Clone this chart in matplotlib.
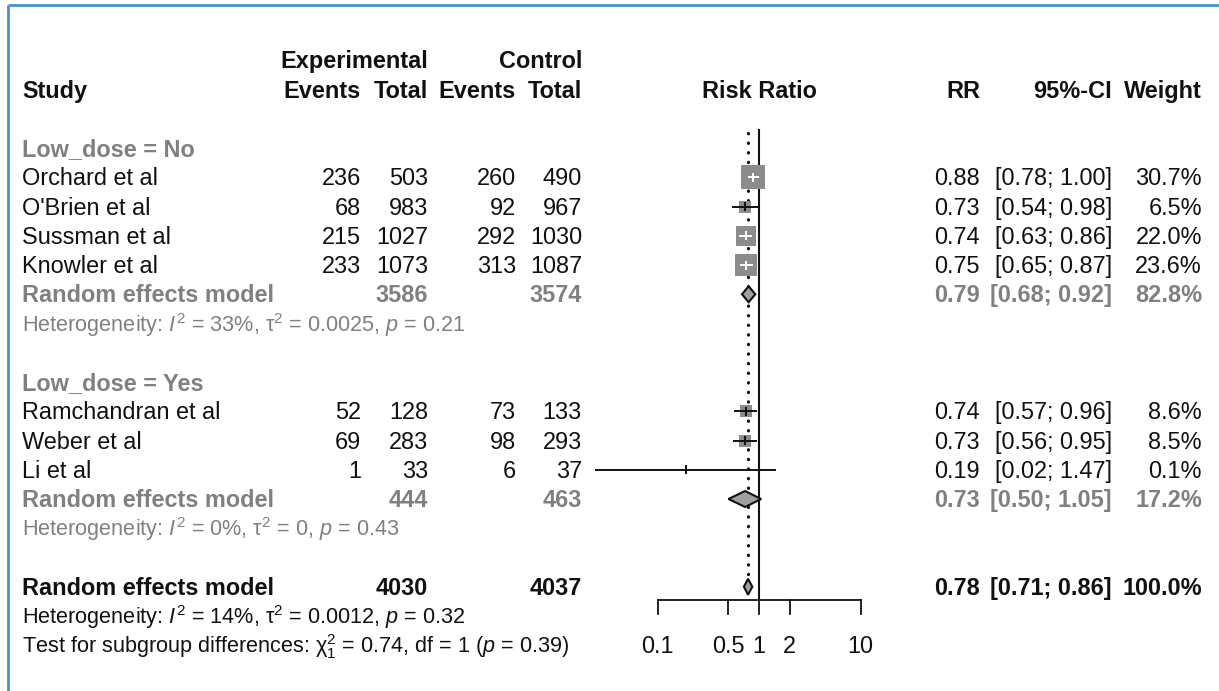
import matplotlib
matplotlib.use('Agg')
import matplotlib.pyplot as plt
import numpy as np
from matplotlib.patches import Polygon

plt.rcParams['font.family'] = ['Liberation Sans', 'DejaVu Sans']
plt.rcParams['mathtext.fontset'] = 'custom'
plt.rcParams['mathtext.rm'] = 'Liberation Sans'
plt.rcParams['mathtext.it'] = 'Liberation Sans:italic'
plt.rcParams['mathtext.bf'] = 'Liberation Sans:bold'
plt.rcParams['mathtext.sf'] = 'Liberation Sans'

# ---------------- data ----------------
group1_label = "Low_dose = No"
studies1 = ["Orchard et al", "O'Brien et al", "Sussman et al", "Knowler et al"]
exp_events1 = [236, 68, 215, 233]
exp_total1 = [503, 983, 1027, 1073]
ctrl_events1 = [260, 92, 292, 313]
ctrl_total1 = [490, 967, 1030, 1087]
rr1 = [0.88, 0.73, 0.74, 0.75]
lo1 = [0.78, 0.54, 0.63, 0.65]
hi1 = [1.00, 0.98, 0.86, 0.87]
w1 = [30.7, 6.5, 22.0, 23.6]
pooled1 = dict(rr=0.79, lo=0.68, hi=0.92, w=82.8, exp_total=3586, ctrl_total=3574)
het1 = r"Heterogeneity: $I^2$ = 33%, $\mathrm{\tau}^2$ = 0.0025, $p$ = 0.21"

group2_label = "Low_dose = Yes"
studies2 = ["Ramchandran et al", "Weber et al", "Li et al"]
exp_events2 = [52, 69, 1]
exp_total2 = [128, 283, 33]
ctrl_events2 = [73, 98, 6]
ctrl_total2 = [133, 293, 37]
rr2 = [0.74, 0.73, 0.19]
lo2 = [0.57, 0.56, 0.024]
hi2 = [0.96, 0.95, 1.47]
w2 = [8.6, 8.5, 0.1]
pooled2 = dict(rr=0.73, lo=0.50, hi=1.05, w=17.2, exp_total=444, ctrl_total=463)
het2 = r"Heterogeneity: $I^2$ = 0%, $\mathrm{\tau}^2$ = 0, $p$ = 0.43"

overall = dict(rr=0.78, lo=0.71, hi=0.86, w=100.0, exp_total=4030, ctrl_total=4037)
het_all = r"Heterogeneity: $I^2$ = 14%, $\mathrm{\tau}^2$ = 0.0012, $p$ = 0.32"
test_sub = r"Test for subgroup differences: $\mathrm{\chi}^2_1$ = 0.74, df = 1 ($p$ = 0.39)"

xticks = [0.1, 0.5, 1, 2, 10]
xtick_labels = ["0.1", "0.5", "1", "2", "10"]

# ---------------- layout ----------------
W, H = 1219, 691
fig = plt.figure(figsize=(W / 100, H / 100), dpi=100)
ax = fig.add_axes([0, 0, 1, 1])
ax.set_xlim(0, W)
ax.set_ylim(H, 0)
ax.axis('off')

Y0, DY = 148, 29.25
def ry(r):
    return Y0 + r * DY

FS = 16.9
FS_HET = 15.6
GREY = '#808080'
BLACK = '#111111'
BASE = 8  # half cap height in px

X_STUDY = 22
X_EE, X_ET, X_CE, X_CT = 361, 428, 516, 582
X_RR, X_CI, X_W = 980, 1112, 1202
X_FOREST = 759

def txt(x, r, s, ha='left', color=BLACK, bold=False, fs=FS):
    ax.text(x, ry(r) + BASE, s, ha=ha, va='baseline', color=color,
            fontsize=fs, fontweight='bold' if bold else 'normal')

# frame
ax.plot([7.5, 7.5], [5, H], color='#4a90cf', lw=2, solid_capstyle='butt')
ax.plot([7.5, W], [5, 5], color='#4a90cf', lw=2, solid_capstyle='butt')

# headers
txt(X_ET, -3, "Experimental", ha='right', bold=True)
txt(X_CT, -3, "Control", ha='right', bold=True)
txt(X_STUDY, -2, "Study", bold=True)
txt(X_EE, -2, "Events", ha='right', bold=True)
txt(X_ET, -2, "Total", ha='right', bold=True)
txt(X_CE, -2, "Events", ha='right', bold=True)
txt(X_CT, -2, "Total", ha='right', bold=True)
txt(X_FOREST, -2, "Risk Ratio", ha='center', bold=True)
txt(X_RR, -2, "RR", ha='right', bold=True)
txt(X_CI, -2, "95%-CI", ha='right', bold=True)
txt(X_W, -2, "Weight", ha='right', bold=True)

# forest axes
px_per_dec = 101.5
fx0, fx1 = 560, 920
fax = fig.add_axes([fx0 / W, 0, (fx1 - fx0) / W, 1])
fax.set_xscale('log')
fax.set_xlim(10 ** ((fx0 - X_FOREST) / px_per_dec), 10 ** ((fx1 - X_FOREST) / px_per_dec))
fax.set_ylim(H, 0)
fax.axis('off')

def px_of(v):
    return fax.transData.transform((v, 0))[0]

SQ_K = 4.4  # px per sqrt(weight)

def draw_study(r, rr, lo, hi, w):
    y = ry(r)
    side_px = SQ_K * np.sqrt(w)
    side_pt = side_px * 72 / 100
    fax.scatter([rr], [y], marker='s', s=side_pt ** 2, color='#8c8c8c',
                linewidths=0, zorder=3)
    c = px_of(rr)
    inside = px_of(lo) >= c - side_px / 2 and px_of(hi) <= c + side_px / 2
    col = 'white' if inside else BLACK
    fax.plot([lo, hi], [y, y], color=col, lw=1.4, zorder=4, solid_capstyle='butt')
    fax.plot([rr, rr], [y - 4.5, y + 4.5], color=col, lw=1.4, zorder=4, solid_capstyle='butt')

def draw_diamond(r, rr, lo, hi):
    y = ry(r)
    h = 8
    poly = Polygon([(lo, y), (rr, y - h), (hi, y), (rr, y + h)], closed=True,
                   facecolor='#a0a0a0', edgecolor=BLACK, lw=1.5, zorder=5)
    fax.add_patch(poly)

def study_row(r, name, ee, et, ce, ct, rr, lo, hi, w):
    txt(X_STUDY, r, name)
    txt(X_EE, r, str(ee), ha='right')
    txt(X_ET, r, str(et), ha='right')
    txt(X_CE, r, str(ce), ha='right')
    txt(X_CT, r, str(ct), ha='right')
    txt(X_RR, r, f"{rr:.2f}", ha='right')
    txt(X_CI, r, f"[{lo:.2f}; {hi:.2f}]", ha='right')
    txt(X_W, r, f"{w:.1f}%", ha='right')
    draw_study(r, rr, lo, hi, w)

def pooled_row(r, p, color, label="Random effects model"):
    txt(X_STUDY, r, label, color=color, bold=True)
    txt(X_ET, r, str(p['exp_total']), ha='right', color=color, bold=True)
    txt(X_CT, r, str(p['ctrl_total']), ha='right', color=color, bold=True)
    txt(X_RR, r, f"{p['rr']:.2f}", ha='right', color=color, bold=True)
    txt(X_CI, r, f"[{p['lo']:.2f}; {p['hi']:.2f}]", ha='right', color=color, bold=True)
    txt(X_W, r, f"{p['w']:.1f}%", ha='right', color=color, bold=True)
    draw_diamond(r, p['rr'], p['lo'], p['hi'])

# group 1
txt(X_STUDY, 0, group1_label, color=GREY, bold=True)
for i in range(len(studies1)):
    study_row(1 + i, studies1[i], exp_events1[i], exp_total1[i], ctrl_events1[i],
              ctrl_total1[i], rr1[i], lo1[i], hi1[i], w1[i])
pooled_row(5, pooled1, GREY)
txt(X_STUDY, 6, het1, color=GREY, fs=FS_HET)

# group 2
txt(X_STUDY, 8, group2_label, color=GREY, bold=True)
for i in range(len(studies2)):
    study_row(9 + i, studies2[i], exp_events2[i], exp_total2[i], ctrl_events2[i],
              ctrl_total2[i], rr2[i], lo2[i], hi2[i], w2[i])
pooled_row(12, pooled2, GREY)
txt(X_STUDY, 13, het2, color=GREY, fs=FS_HET)

# overall
pooled_row(15, overall, BLACK)
txt(X_STUDY, 16, het_all, fs=FS_HET)
txt(X_STUDY, 17, test_sub, fs=FS_HET)

# reference lines
axis_y = ry(15) + 13
fax.plot([1, 1], [ry(-0.6), axis_y], color=BLACK, lw=1.5, zorder=2)
fax.plot([overall['rr'], overall['rr']], [ry(-0.5), ry(15) - 8], color=BLACK,
         lw=2.3, linestyle=(0, (0.1, 2.9)), dash_capstyle='round', zorder=2)

# x axis
fax.plot([xticks[0], xticks[-1]], [axis_y, axis_y], color=BLACK, lw=1.3)
for t, lab in zip(xticks, xtick_labels):
    fax.plot([t, t], [axis_y, axis_y + 14], color=BLACK, lw=1.3)
    fax.text(t, ry(17) + BASE, lab, ha='center', va='baseline', fontsize=FS, color=BLACK)

fig.savefig('out.png', dpi=100)
